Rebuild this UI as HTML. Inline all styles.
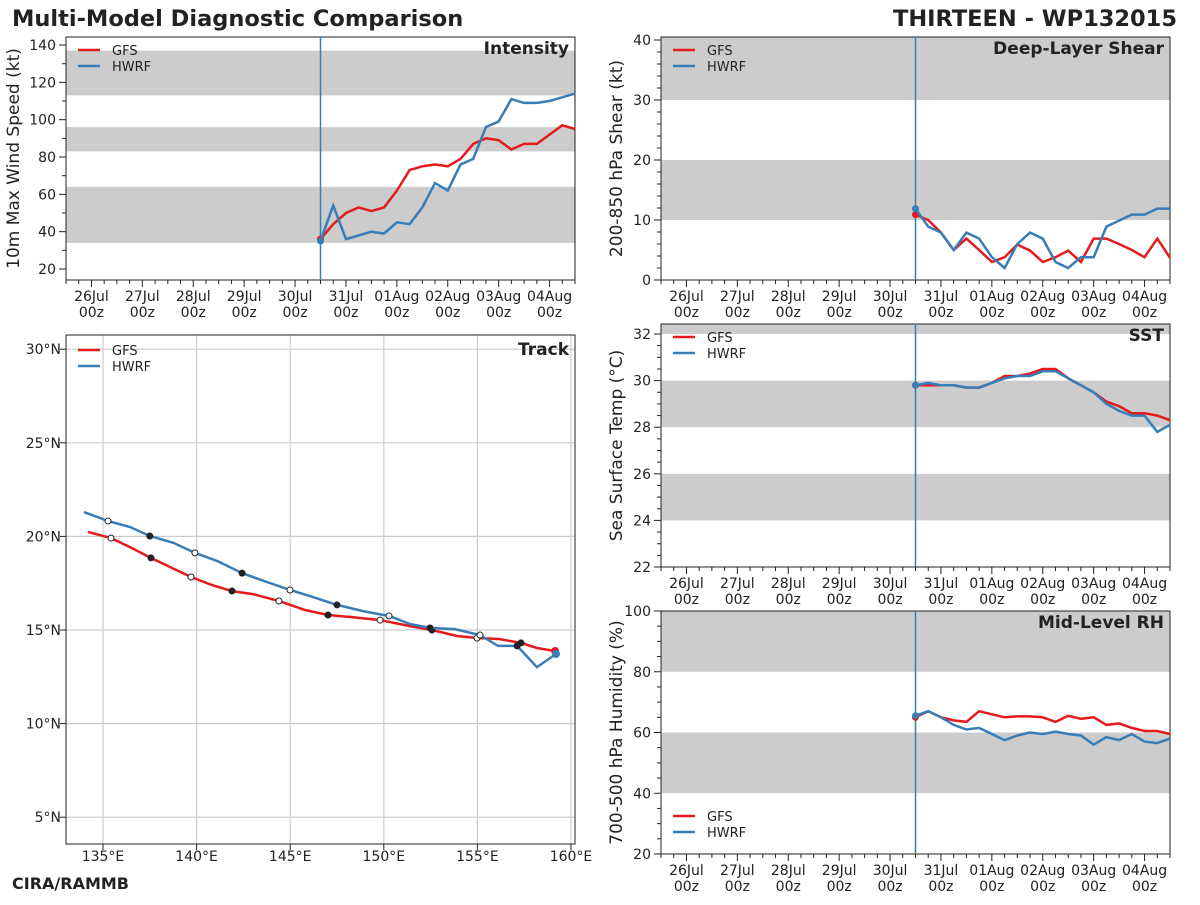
<!DOCTYPE html>
<html><head><meta charset="utf-8"><style>
body{margin:0;background:#fff;}
svg text{font-family:"DejaVu Sans","Liberation Sans",sans-serif;fill:#222;}
</style></head><body>
<svg id="chart" width="1200" height="900" viewBox="0 0 1200 900" xmlns="http://www.w3.org/2000/svg">
<text x="12" y="26" font-size="22.5" font-weight="bold">Multi-Model Diagnostic Comparison</text>
<text x="1177" y="26" font-size="22.5" font-weight="bold" text-anchor="end">THIRTEEN - WP132015</text>
<text x="12" y="889" font-size="16" font-weight="bold">CIRA/RAMMB</text>
</svg>
<script>
const dayLabels=["26Jul","27Jul","28Jul","29Jul","30Jul","31Jul","01Aug","02Aug","03Aug","04Aug"];
const intGFS=[36,44,50,53,51,53,62,73,75,76,75,79,87,90,89,84,87,87,92,97,95];
const intHWRF=[35,54,36,38,40,39,45,44,53,66,62,76,79,96,99,111,109,109,110,112,114];
const shrGFS=[10.9,10,7.9,5,6.9,5,3,3.8,5.9,4.9,3,3.8,4.9,3,6.9,6.9,6,5,3.8,6.9,3.7];
const shrHWRF=[11.9,8.9,7.9,5,7.9,6.9,3.8,2,6,7.9,6.9,3,2,3.8,3.8,8.9,9.9,10.9,10.9,11.9,11.9];
const sstGFS=[29.8,29.8,29.8,29.8,29.7,29.7,29.9,30.2,30.2,30.3,30.5,30.5,30.1,29.8,29.5,29.1,28.9,28.6,28.6,28.5,28.3];
const sstHWRF=[29.8,29.9,29.8,29.8,29.7,29.7,29.9,30.1,30.2,30.2,30.4,30.4,30.1,29.8,29.5,29.0,28.7,28.5,28.5,27.8,28.1];
const rhGFS=[65,67,65,64,63.5,67,66,65,65.3,65.3,65,63.5,65.5,64.5,65,62.5,63,61.5,60.5,60.5,59.5];
const rhHWRF=[65.5,67,65,62.5,61,61.5,59.5,57.5,59,60,59.5,60.3,59.5,59,56,58.5,57.5,59.5,57,56.5,58];
const trkGFSlon=[159.15,158.18,157.33,156.15,154.98,153.91,152.57,151.40,149.80,148.30,147.02,145.79,144.40,143.01,141.89,140.82,139.70,138.69,137.56,136.44,135.43,134.20];
const trkGFSlat=[13.88,14.04,14.31,14.52,14.57,14.68,15.0,15.21,15.53,15.69,15.80,16.07,16.55,16.92,17.08,17.40,17.83,18.31,18.85,19.43,19.91,20.24];
const trkHWRFlon=[159.2,158.18,157.12,156.10,155.14,153.80,152.47,151.40,150.28,148.89,147.5,146.22,144.99,143.60,142.43,141.09,139.91,138.79,137.50,136.44,135.27,133.98];
const trkHWRFlat=[13.72,13.02,14.15,14.15,14.73,15.05,15.11,15.32,15.75,16.01,16.34,16.76,17.14,17.62,18.04,18.69,19.12,19.65,20.02,20.50,20.82,21.30];
const lonTicks=[135,140,145,150,155,160];
const latTicks=[5,10,15,20,25,30];

const svg=document.getElementById('chart');
const NS='http://www.w3.org/2000/svg';
const RED='#e41a1c',BLUE='#377eb8';
function mk(tag,attrs,parent,txt){const e=document.createElementNS(NS,tag);for(const k in attrs)e.setAttribute(k,attrs[k]);if(txt!==undefined)e.textContent=txt;(parent||svg).appendChild(e);return e;}

function timePanel(o){
  const g=mk('g',{});
  
  
  const {x0,x1,y0,y1,vmin,vmax}=o;
  const X=h=>x0+(h/240)*(x1-x0);
  const Y=v=>y1-(v-vmin)/(vmax-vmin)*(y1-y0);
  o.bands.forEach(b=>{const top=Y(Math.min(b[1],vmax)),bot=Y(Math.max(b[0],vmin));
    const r=mk('rect',{x:x0,y:top,width:x1-x0,height:bot-top,fill:'#cccccc'},g);
    });
  mk('rect',{x:x0,y:y0,width:x1-x0,height:y1-y0,fill:'none',stroke:'#222','stroke-width':1},g);
  for(let h=0;h<=240;h+=6){const major=(h%24)==12;mk('line',{x1:X(h),x2:X(h),y1:y1,y2:y1+(major?7:4),stroke:'#222','stroke-width':1},g);}
  dayLabels.forEach((d,i)=>{const h=12+24*i;
    const t=mk('text',{x:X(h),y:y1+21,'font-size':14,'text-anchor':'middle'},g,d);
    
    mk('text',{x:X(h),y:y1+37,'font-size':14,'text-anchor':'middle'},g,'00z');});
  for(let v=o.ymin;v<=vmax;v+=o.minor){if(v<vmin)continue;mk('line',{x1:x0-(Math.abs(v/o.major-Math.round(v/o.major))<1e-6?7:4),x2:x0,y1:Y(v),y2:Y(v),stroke:'#222'},g);}
  for(let v=o.ymin;v<=vmax;v+=o.major){if(v<vmin)continue;const t=mk('text',{x:x0-10,y:Y(v)+5,'font-size':14,'text-anchor':'end'},g,String(v));
    }
  const yt=mk('text',{x:0,y:0,'font-size':17,'text-anchor':'middle',transform:`translate(${o.ytx},${(y0+y1)/2}) rotate(-90)`},g,o.ytitle);
  
  const pt=mk('text',{x:x1-6,y:y0+17,'font-size':17,'font-weight':'bold','text-anchor':'end'},g,o.title);
  
  mk('line',{x1:X(120),x2:X(120),y1:y0,y2:y1,stroke:BLUE,'stroke-width':1.5},g);
  [[o.gfs,RED,'gfs-line'],[o.hwrf,BLUE,'hwrf-line']].forEach(([arr,c,n])=>{
    const pts=arr.map((v,i)=>X(120+6*i).toFixed(1)+','+Y(v).toFixed(1)).join(' ');
    const p=mk('polyline',{points:pts,fill:'none',stroke:c,'stroke-width':2.5},g);
    
    mk('circle',{cx:X(120),cy:Y(arr[0]),r:3.5,fill:c},g);});
  legend(g,x0,o.legendBottom?y1-38:y0+13);
}
function legend(g,x0,ly){
  [['GFS',RED],['HWRF',BLUE]].forEach(([n,c],i)=>{const y=ly+i*16;
    mk('line',{x1:x0+12,x2:x0+34,y1:y,y2:y,stroke:c,'stroke-width':2.5},g);
    const t=mk('text',{x:x0+46,y:y+5,'font-size':13},g,n);
    });
}
timePanel({name:'intensity-panel',x0:66,x1:575,y0:37,y1:280,vmin:14.1,vmax:144.3,ymin:20,major:20,minor:10,bands:[[34,64],[83,96],[113,137]],gfs:intGFS,hwrf:intHWRF,title:'Intensity',ytitle:'10m Max Wind Speed (kt)',ytx:19});
timePanel({name:'shear-panel',x0:661,x1:1170,y0:37,y1:280,vmin:0,vmax:40.5,ymin:0,major:10,minor:2,bands:[[10,20],[30,41]],gfs:shrGFS,hwrf:shrHWRF,title:'Deep-Layer Shear',ytitle:'200-850 hPa Shear (kt)',ytx:622});
timePanel({name:'sst-panel',x0:661,x1:1170,y0:324,y1:567,vmin:22,vmax:32.43,ymin:22,major:2,minor:0.5,bands:[[24,26],[28,30],[32,33]],gfs:sstGFS,hwrf:sstHWRF,title:'SST',ytitle:'Sea Surface Temp (°C)',ytx:622});
timePanel({name:'rh-panel',x0:661,x1:1170,y0:611,y1:854,vmin:20,vmax:100,ymin:20,major:20,minor:5,bands:[[40,60],[80,100]],gfs:rhGFS,hwrf:rhHWRF,title:'Mid-Level RH',ytitle:'700-500 hPa Humidity (%)',ytx:622,legendBottom:true});

(function(){
  const g=mk('g',{});
  
  
  const x0=66,x1=575,y0=335,y1=844;
  const X=lon=>103+(lon-135)*18.72, Y=lat=>630-(lat-15)*18.72;
  lonTicks.forEach(l=>{mk('line',{x1:X(l),x2:X(l),y1:y0,y2:y1,stroke:'#cccccc','stroke-width':1.2},g);
    mk('line',{x1:X(l),x2:X(l),y1:y1,y2:y1+6,stroke:'#222'},g);
    const t=mk('text',{x:X(l),y:y1+17,'font-size':14,'text-anchor':'middle'},g,l+'°E');
    });
  latTicks.forEach(l=>{mk('line',{x1:x0,x2:x1,y1:Y(l),y2:Y(l),stroke:'#cccccc','stroke-width':1.2},g);
    mk('line',{x1:x0-6,x2:x0,y1:Y(l),y2:Y(l),stroke:'#222'},g);
    const t=mk('text',{x:x0-5,y:Y(l)+5,'font-size':14,'text-anchor':'end'},g,l+'°N');
    });
  mk('rect',{x:x0,y:y0,width:x1-x0,height:y1-y0,fill:'none',stroke:'#222'},g);
  [[trkGFSlon,trkGFSlat,RED,'gfs-track'],[trkHWRFlon,trkHWRFlat,BLUE,'hwrf-track']].forEach(([lo,la,c,n])=>{
    const p=mk('polyline',{points:lo.map((v,i)=>X(v).toFixed(1)+','+Y(la[i]).toFixed(1)).join(' '),fill:'none',stroke:c,'stroke-width':2.5},g);
    
    for(let i=2;i<lo.length;i+=2){const filled=(i%4)==2;
      mk('circle',{cx:X(lo[i]),cy:Y(la[i]),r:3,fill:filled?'#222':'#fff',stroke:'#222','stroke-width':1},g);}
    mk('circle',{cx:X(lo[0]),cy:Y(la[0]),r:4,fill:c},g);});
  const pt=mk('text',{x:x1-6,y:y0+20,'font-size':17,'font-weight':'bold','text-anchor':'end'},g,'Track');
  
  legend(g,x0,y0+15);
})();
</script>
</body></html>
